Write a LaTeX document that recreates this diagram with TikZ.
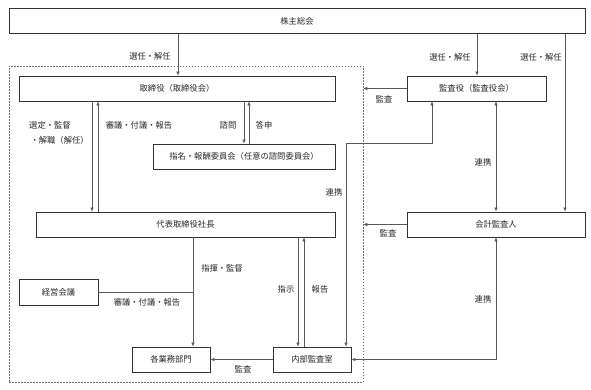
\documentclass[tikz,border=0pt]{standalone}
\usepackage{fontspec}
\newfontfamily\jp{Noto Sans CJK JP}
\usetikzlibrary{arrows.meta}
\begin{document}
\begin{tikzpicture}[x=1pt,y=-1pt,
  txt/.style={font=\jp\fontsize{8.3}{15}\selectfont, text=black!85},
  box/.style={txt, draw=black!80, line width=0.8pt, minimum height=25pt, inner sep=0pt},
  lbl/.style={txt, inner sep=0pt},
  ln/.style={draw=black!65, line width=0.6pt},
  arr/.style={ln, -{Latex[length=4pt,width=3.5pt]}},
  darr/.style={ln, {Latex[length=4pt,width=3.5pt]}-{Latex[length=4pt,width=3.5pt]}}]
\useasboundingbox (0,0) rectangle (591,390);
% group
\node[draw=black!55, line width=0.6pt, dash pattern=on 1.5pt off 1.5pt, minimum width=354pt, minimum height=316pt, inner sep=0pt] (grp) at (186,224) {};
% boxes
\node[box, minimum width=576pt] (sh) at (297,21) {株主総会};
\node[box, minimum width=316pt] (tr) at (177,88.5) {取締役（取締役会）};
\node[box, minimum width=182pt] (nc) at (244,156.5) {指名・報酬委員会（任意の諮問委員会）};
\node[box, minimum width=299pt] (ceo) at (185.5,224.5) {代表取締役社長};
\node[box, minimum width=79pt, minimum height=26pt] (km) at (58.5,292) {経営会議};
\node[box, minimum width=78pt] (gy) at (171,359.5) {各業務部門};
\node[box, minimum width=78pt] (ia) at (312,359.5) {内部監査室};
\node[box, minimum width=139pt] (ks) at (476.5,88.5) {監査役（監査役会）};
\node[box, minimum width=178pt] (ka) at (496,224.5) {会計監査人};
% connectors
\draw[arr] (sh.south -| 178,0) -- (tr.north -| 178,0);
\draw[arr] (tr.south -| 92,0) -- (ceo.north -| 92,0);
\draw[arr] (ceo.north -| 98,0) -- (tr.south -| 98,0);
\draw[arr] (tr.south -| 244,0) -- (nc.north -| 244,0);
\draw[arr] (nc.north -| 249,0) -- (tr.south -| 249,0);
\draw[arr] (ceo.south -| 193,0) -- (gy.north -| 193,0);
\draw[ln] (km.east) -- (km.east -| 193,0);
\draw[arr] (ceo.south -| 298,0) -- (ia.north -| 298,0);
\draw[arr] (ia.north -| 304,0) -- (ceo.south -| 304,0);
\draw[arr] (ia.west) -- (gy.east);
\draw[arr] (sh.south -| 477,0) -- (ks.north -| 477,0);
\draw[arr] (sh.south -| 565,0) -- (ka.north -| 565,0);
\draw[arr] (ks.west) -- (ks.west -| grp.east);
\draw[arr] (ka.west) -- (ka.west -| grp.east);
\draw[darr] (ia.north -| 346,0) -- (346,143) -- (432,143) -- (ks.south -| 432,0);
\draw[darr] (ks.south -| 496,0) -- (ka.north -| 496,0);
\draw[darr] (ka.south) -- (ka.south |- ia.east) -- (ia.east);
% labels
\node[lbl] (l1) at (150,56) {選任・解任};
\node[lbl] (l2) at (450,57) {選任・解任};
\node[lbl] (l3) at (541,57) {選任・解任};
\node[lbl] (l4) at (384,99) {監査};
\node[lbl, align=left, anchor=west] (l5) at (29,132.5) {選定・監督\\\,・解職（解任）};
\node[lbl] (l6) at (139,125) {審議・付議・報告};
\node[lbl] (l7) at (228,125) {諮問};
\node[lbl] (l8) at (264,125) {答申};
\node[lbl] (l9) at (334,192) {連携};
\node[lbl] (l10) at (483,162) {連携};
\node[lbl] (l11) at (388,233) {監査};
\node[lbl] (l12) at (222,268) {指揮・監督};
\node[lbl] (l13) at (286,289) {指示};
\node[lbl] (l14) at (320,289) {報告};
\node[lbl] (l15) at (483,299) {連携};
\node[lbl] (l16) at (147,302) {審議・付議・報告};
\node[lbl] (l17) at (243,369) {監査};
\end{tikzpicture}
\end{document}
